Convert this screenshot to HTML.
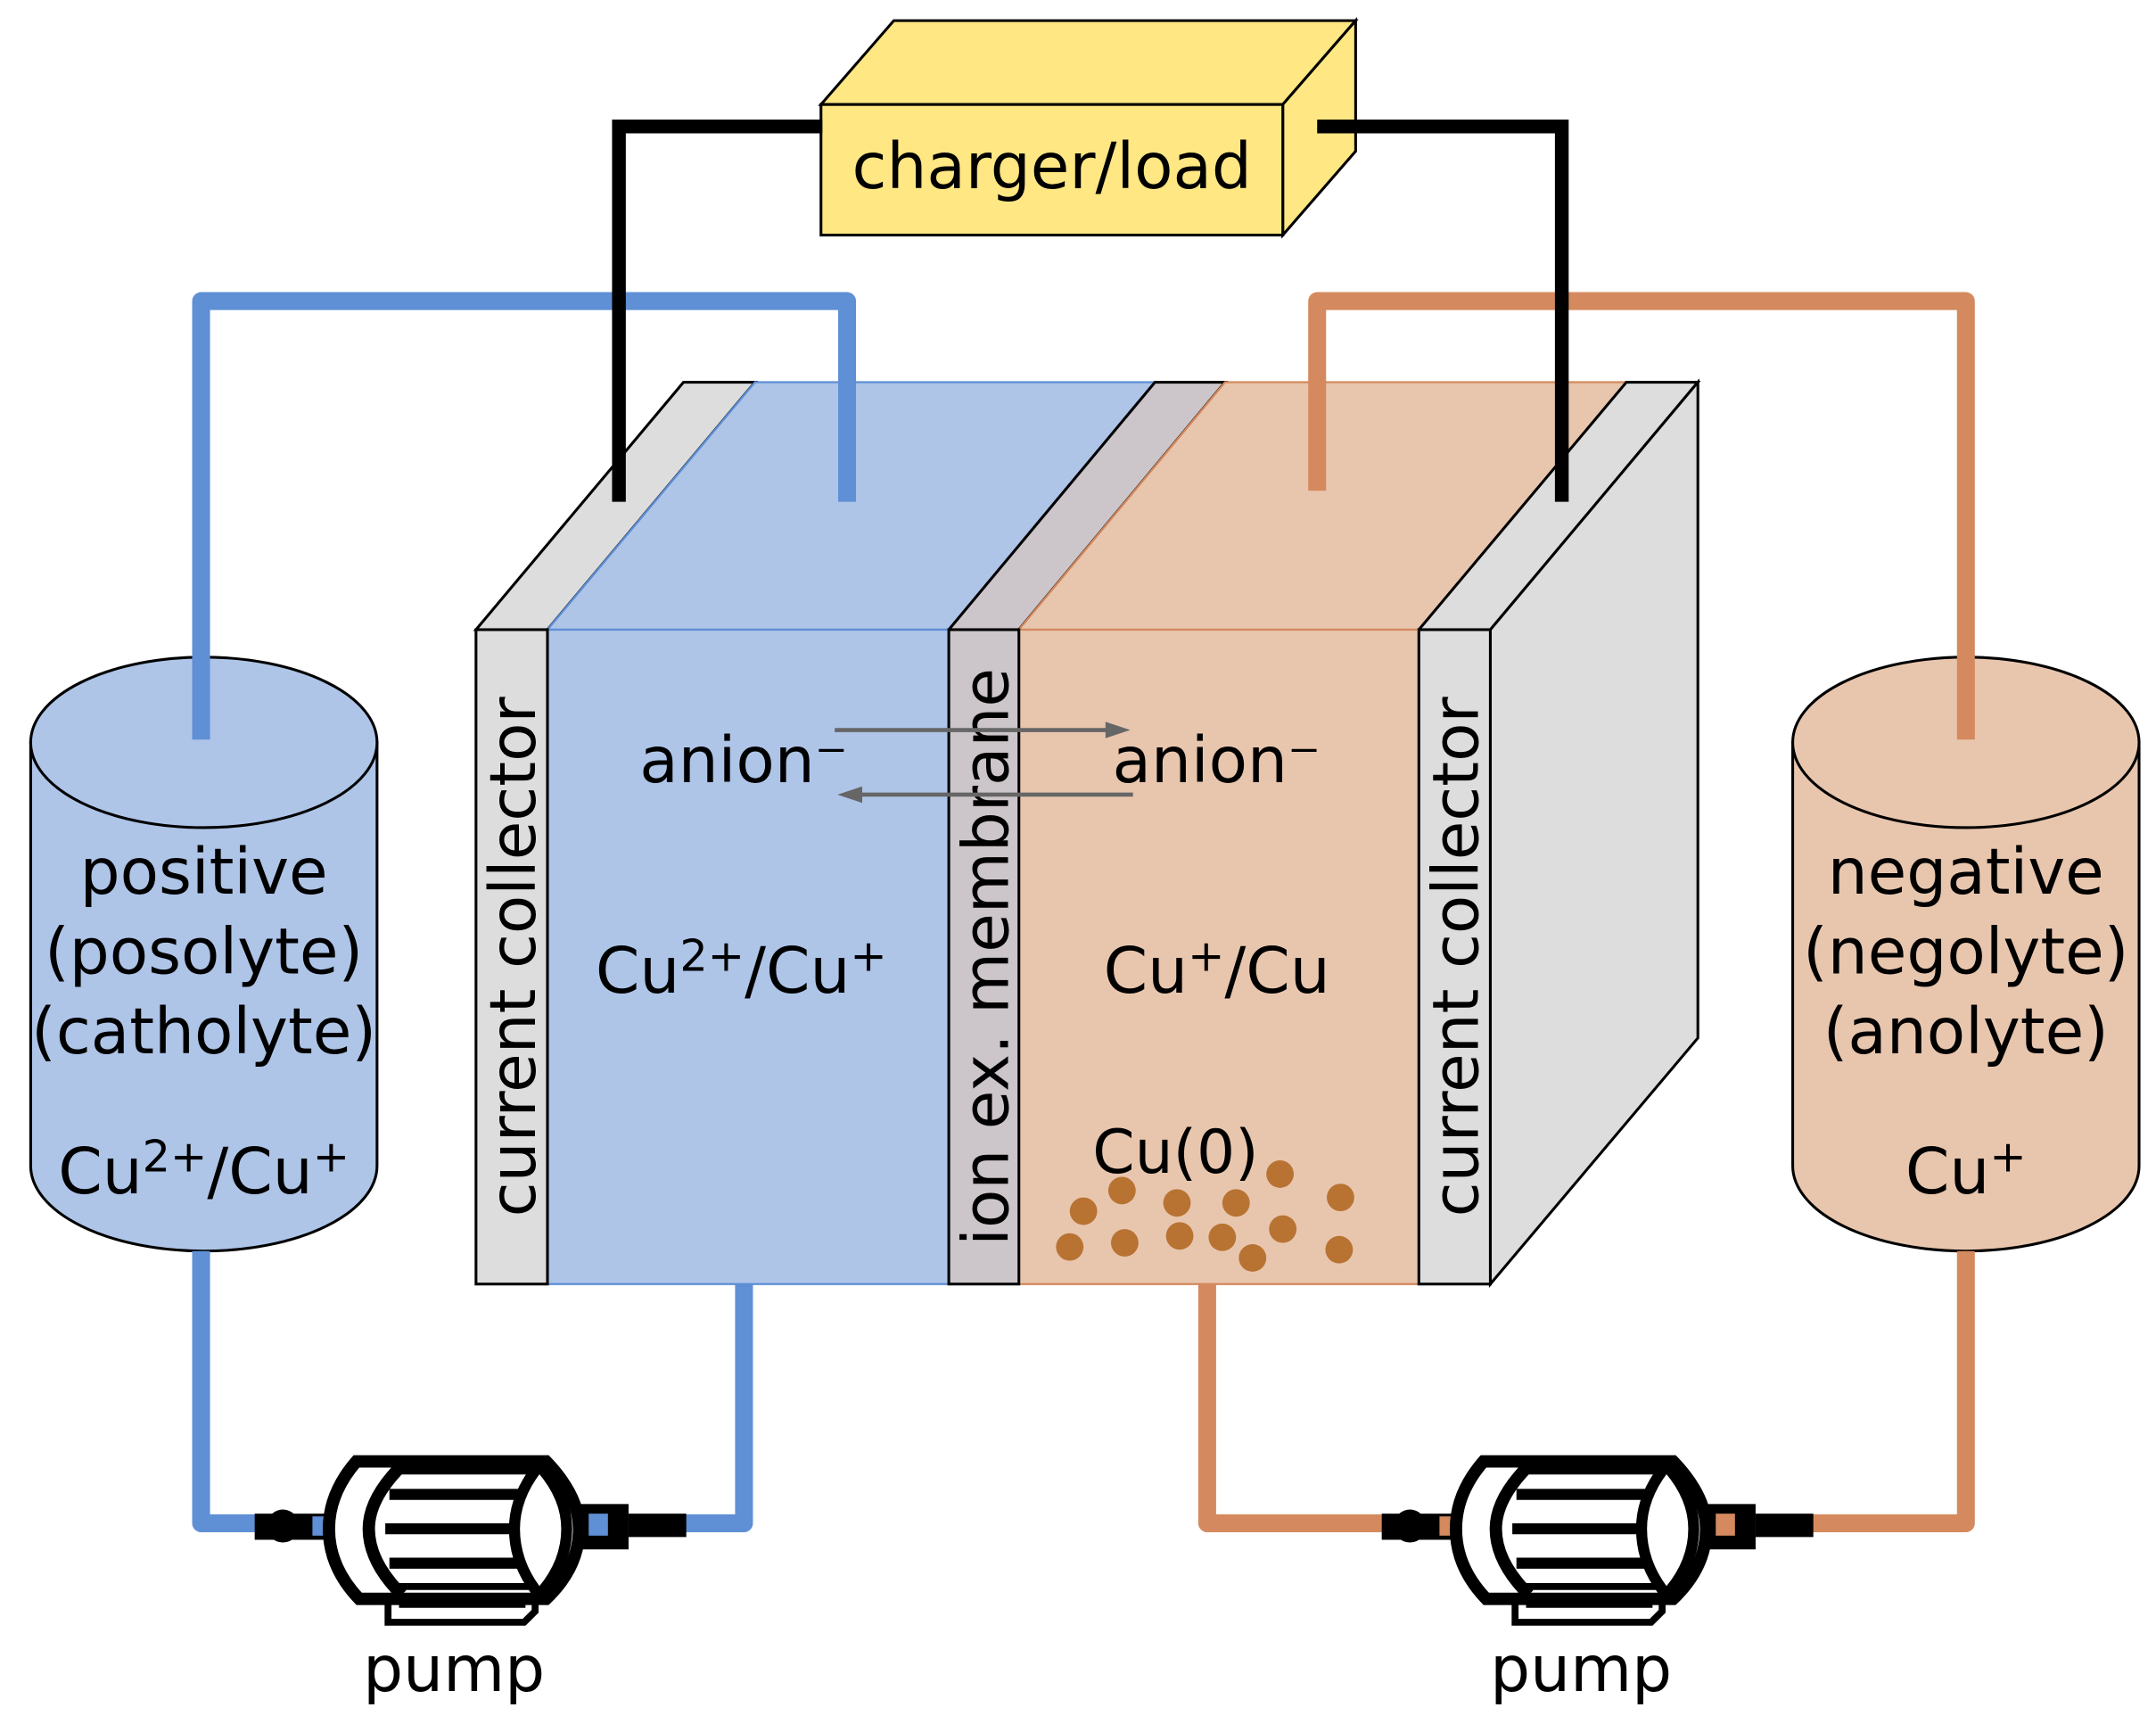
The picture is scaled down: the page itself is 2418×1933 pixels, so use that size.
<!DOCTYPE html>
<html><head><meta charset="utf-8"><style>
html,body{margin:0;padding:0;background:#fff}
svg{display:block}
text{font-family:"DejaVu Sans","Liberation Sans",sans-serif;fill:#000}
</style></head><body>
<svg width="2418" height="1933" viewBox="0 0 1568 1254" xmlns="http://www.w3.org/2000/svg">
<defs>
<g id="pump">
  <rect x="185" y="1101" width="53" height="19" fill="#000"/>
  <circle cx="205.5" cy="1110" r="12" fill="#000"/>
  <rect x="227" y="1103" width="11" height="14" fill="currentColor"/>
  <rect x="420" y="1094" width="37" height="33" fill="#000"/>
  <rect x="428" y="1101" width="14" height="16" fill="currentColor"/>
  <rect x="457" y="1101" width="42" height="17" fill="#000"/>
  <path d="M282 1163 L282 1180 L381 1180 L389 1172 L389 1163" fill="#fff" stroke="#000" stroke-width="5"/>
  <line x1="290" y1="1168" x2="382" y2="1168" stroke="#000" stroke-width="3"/>
  <path d="M259 1063 L397 1063 Q421 1088 421 1112 Q421 1140 397 1163 L261 1163 Q239 1140 239 1112 Q239 1086 259 1063 Z" fill="#fff" stroke="#000" stroke-width="9"/>
  <path d="M292 1066 Q268 1090 268 1112 Q268 1136 292 1160" fill="none" stroke="#000" stroke-width="9"/>
  <path d="M392 1066 Q374 1088 374 1112 Q374 1138 392 1160 Q412 1138 412 1112 Q412 1088 392 1066 Z" fill="#fff" stroke="#000" stroke-width="8"/>
  <line x1="283" y1="1087" x2="378" y2="1087" stroke="#000" stroke-width="8"/>
  <line x1="280" y1="1112" x2="374" y2="1112" stroke="#000" stroke-width="8"/>
  <line x1="283" y1="1137" x2="378" y2="1137" stroke="#000" stroke-width="8"/>
  <line x1="290" y1="1070" x2="386" y2="1070" stroke="#000" stroke-width="5"/>
  <line x1="290" y1="1154" x2="386" y2="1154" stroke="#000" stroke-width="5"/>
</g>
</defs>

<!-- charger -->
<polygon points="597,76 650,15 986,15 933,76" fill="#ffe783" stroke="#000" stroke-width="2"/>
<polygon points="933,76 986,15 986,110 933,171" fill="#ffe783" stroke="#000" stroke-width="2"/>
<rect x="597" y="76" width="336" height="95" fill="#ffe783" stroke="#000" stroke-width="2"/>
<text x="765" y="137" font-size="46" text-anchor="middle">charger/load</text>

<!-- cell -->
<polygon points="346,458 497,278 549,278 398,458" fill="#ddd" stroke="#000" stroke-width="2"/>
<polygon points="398,458 549,278 840,278 690,458" fill="#aec5e8" stroke="#5f8fd5" stroke-width="1.5"/>
<polygon points="690,458 840,278 891,278 741,458" fill="#ccc5ca" stroke="#000" stroke-width="2"/>
<polygon points="741,458 891,278 1183,278 1032,458" fill="#e8c6ae" stroke="#d48a5e" stroke-width="1.5"/>
<polygon points="1032,458 1183,278 1235,278 1084,458" fill="#ddd" stroke="#000" stroke-width="2"/>
<polygon points="1084,458 1235,278 1235,755 1084,934" fill="#ddd" stroke="#000" stroke-width="2"/>
<rect x="398" y="458" width="292" height="476" fill="#aec5e8" stroke="#5f8fd5" stroke-width="1.5"/>
<rect x="741" y="458" width="291" height="476" fill="#e8c6ae" stroke="#d48a5e" stroke-width="1.5"/>
<rect x="346" y="458" width="52" height="476" fill="#ddd" stroke="#000" stroke-width="2"/>
<rect x="690" y="458" width="51" height="476" fill="#ccc5ca" stroke="#000" stroke-width="2"/>
<rect x="1032" y="458" width="52" height="476" fill="#ddd" stroke="#000" stroke-width="2"/>

<!-- tanks -->
<path d="M22 540 L22 848 A126 62 0 0 0 274 848 L274 540 Z" fill="#aec5e8" stroke="#000" stroke-width="2"/>
<ellipse cx="148" cy="540" rx="126" ry="62" fill="#aec5e8" stroke="#000" stroke-width="2"/>
<path d="M1304 540 L1304 848 A126 62 0 0 0 1556 848 L1556 540 Z" fill="#e8c6ae" stroke="#000" stroke-width="2"/>
<ellipse cx="1430" cy="540" rx="126" ry="62" fill="#e8c6ae" stroke="#000" stroke-width="2"/>

<!-- pipes top -->
<polyline points="146,538 146,219 616,219 616,365" fill="none" stroke="#5f8fd5" stroke-width="13" stroke-linejoin="round"/>
<polyline points="958,357 958,219 1430,219 1430,538" fill="none" stroke="#d48a5e" stroke-width="13" stroke-linejoin="round"/>

<!-- wires -->
<polyline points="598,92 450,92 450,365" fill="none" stroke="#000" stroke-width="10"/>
<polyline points="958,92 1136,92 1136,365" fill="none" stroke="#000" stroke-width="10"/>

<text transform="translate(389,696) rotate(-90)" font-size="46" text-anchor="middle">current collector</text>
<text transform="translate(733,696) rotate(-90)" font-size="46" text-anchor="middle">ion ex. membrane</text>
<text transform="translate(1075,696) rotate(-90)" font-size="46" text-anchor="middle">current collector</text>

<!-- arrows -->
<line x1="607" y1="531" x2="808" y2="531" stroke="#666" stroke-width="3"/>
<polygon points="822,531 804,525 804,537" fill="#666"/>
<line x1="824" y1="578" x2="624" y2="578" stroke="#666" stroke-width="3"/>
<polygon points="609,578 627,572 627,584" fill="#666"/>

<text x="465" y="569" font-size="46">anion⁻</text>
<text x="809" y="569" font-size="46">anion⁻</text>
<text x="539" y="722" font-size="46" text-anchor="middle">Cu<tspan font-size="32" dy="-16">2+</tspan><tspan dy="16">/Cu</tspan><tspan font-size="32" dy="-16">+</tspan></text>
<text x="885" y="722" font-size="46" text-anchor="middle">Cu<tspan font-size="32" dy="-16">+</tspan><tspan dy="16">/Cu</tspan></text>
<text x="855" y="853" font-size="44" text-anchor="middle">Cu(0)</text>
<g fill="#b87333">
<circle cx="816" cy="866" r="10"/><circle cx="788" cy="881" r="10"/><circle cx="856" cy="875" r="10"/>
<circle cx="899" cy="875" r="10"/><circle cx="931" cy="854" r="10"/><circle cx="975" cy="871" r="10"/>
<circle cx="778" cy="907" r="10"/><circle cx="818" cy="904" r="10"/><circle cx="858" cy="899" r="10"/>
<circle cx="889" cy="900" r="10"/><circle cx="933" cy="894" r="10"/><circle cx="911" cy="915" r="10"/>
<circle cx="974" cy="909" r="10"/>
</g>

<g font-size="46" text-anchor="middle">
<text x="148" y="650">positive</text><text x="148" y="708">(posolyte)</text><text x="148" y="766">(catholyte)</text>
<text x="148" y="868">Cu<tspan font-size="32" dy="-16">2+</tspan><tspan dy="16">/Cu</tspan><tspan font-size="32" dy="-16">+</tspan></text>
<text x="1430" y="650">negative</text><text x="1430" y="708">(negolyte)</text><text x="1430" y="766">(anolyte)</text>
<text x="1430" y="868">Cu<tspan font-size="32" dy="-16">+</tspan></text>
</g>

<!-- bottom pipes -->
<polyline points="146,910 146,1108 190,1108" fill="none" stroke="#5f8fd5" stroke-width="13" stroke-linejoin="round"/>
<polyline points="495,1108 541,1108 541,934" fill="none" stroke="#5f8fd5" stroke-width="13" stroke-linejoin="round"/>
<polyline points="878,934 878,1108 1010,1108" fill="none" stroke="#d48a5e" stroke-width="13" stroke-linejoin="round"/>
<polyline points="1315,1108 1430,1108 1430,910" fill="none" stroke="#d48a5e" stroke-width="13" stroke-linejoin="round"/>

<use href="#pump" style="color:#5f8fd5"/>
<use href="#pump" transform="translate(820,0)" style="color:#d48a5e"/>
<text x="330" y="1230" font-size="46" text-anchor="middle">pump</text>
<text x="1150" y="1230" font-size="46" text-anchor="middle">pump</text>
</svg>
</body></html>
